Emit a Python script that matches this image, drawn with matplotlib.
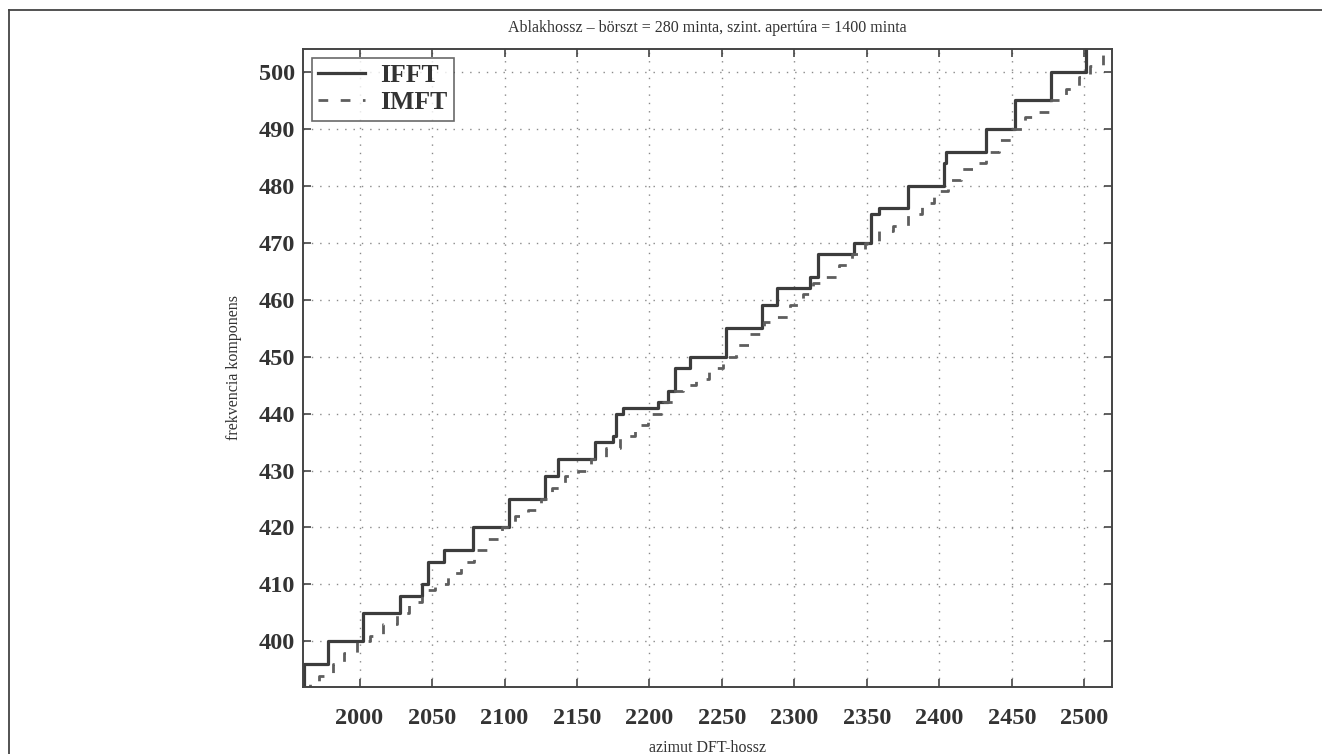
import matplotlib.pyplot as plt
from matplotlib.lines import Line2D

# azimut DFT-hossz / frekvencia komponens, IFFT (step corners)
ifft_x = [1961, 1962, 1978, 2002.5, 2028, 2043, 2047.5, 2058, 2078.5, 2103, 2128, 2137,
          2162.5, 2174.5, 2177, 2182, 2206, 2213, 2217.5, 2228, 2252.5, 2277.5, 2288,
          2311, 2316, 2341, 2352.5, 2358, 2378, 2403, 2404.5, 2432, 2452, 2477, 2501, 2520]
ifft_y = [392, 396, 400, 405, 408, 410, 414, 416, 420, 425, 429, 432,
          435, 436, 440, 441, 442, 444, 448, 450, 455, 459, 462,
          464, 468, 470, 475, 476, 480, 484, 486, 490, 495, 500, 506, 506]

# IMFT (step corners)
imft_x = [1961, 1966, 1972, 1982, 1989, 1998, 2007, 2016, 2026, 2034, 2043, 2052, 2061,
          2070, 2079, 2088, 2098, 2107, 2116, 2125, 2133, 2142, 2151, 2160, 2170, 2180,
          2190, 2199, 2209, 2216, 2223, 2232, 2241, 2251, 2260, 2269, 2279, 2288, 2297,
          2306, 2313, 2321, 2331, 2340, 2349, 2358, 2368, 2378, 2388, 2396, 2406, 2415,
          2423, 2432, 2441, 2450, 2459, 2468, 2477, 2487, 2496, 2504, 2513, 2520]
imft_y = [392, 393, 394, 396, 398, 400, 401, 403, 405, 407, 409, 410, 412,
          414, 416, 418, 420, 422, 423, 425, 427, 429, 430, 432, 434, 436,
          438, 440, 442, 444, 445, 446, 448, 450, 452, 454, 456, 457, 459,
          461, 463, 464, 466, 468, 470, 472, 473, 475, 477, 479, 481, 483,
          484, 486, 488, 490, 492, 493, 495, 497, 499, 501, 503, 503]

x_ticks = list(range(2000, 2501, 50))
y_ticks = list(range(400, 501, 10))

plt.rcParams['font.family'] = ['Liberation Serif', 'DejaVu Serif']

fig = plt.figure(figsize=(13.22, 7.54), dpi=100)
ax = fig.add_axes([0.2292, 0.0889, 0.6119, 0.8461])

ax.plot(ifft_x, ifft_y, drawstyle='steps-post', color='#3c3c3c', lw=2.3,
        label='IFFT')
ax.plot(imft_x, imft_y, drawstyle='steps-post', color='#5e5e5e', lw=2.0,
        linestyle=(0, (3.5, 4.5)), label='IMFT')

ax.set_xlim(1961, 2519)
ax.set_ylim(392, 504)
ax.set_xticks(x_ticks)
ax.set_yticks(y_ticks)
ax.grid(True, color='#8a8a8a', linestyle=(0, (1, 5)), lw=1.0)

for side in ax.spines.values():
    side.set_color('#444444')
    side.set_linewidth(1.4)
ax.tick_params(direction='in', length=6, width=1.2, color='#444444',
               top=True, right=True, labelsize=17.5, labelcolor='#333333')
ax.tick_params(axis='x', pad=15)
ax.tick_params(axis='y', pad=6)
for lab in ax.get_xticklabels() + ax.get_yticklabels():
    lab.set_fontweight('bold')

ax.set_title('Ablakhossz – börszt = 280 minta, szint. apertúra = 1400 minta',
             fontsize=11.5, color='#333333', pad=12)
ax.set_xlabel('azimut DFT-hossz', fontsize=11.5, color='#333333', labelpad=8)
ax.set_ylabel('frekvencia komponens', fontsize=11.5, color='#333333', labelpad=12)

leg = ax.legend(loc='upper left', prop={'weight': 'bold', 'size': 18.5},
                frameon=True, fancybox=False, edgecolor='#444444',
                borderaxespad=0.35, handlelength=1.8, labelspacing=0.15,
                borderpad=0.25, handletextpad=0.6)
leg.get_frame().set_linewidth(1.2)
for t in leg.get_texts():
    t.set_color('#333333')

# page frame
fig.add_artist(Line2D([0.0068, 1.0], [0.9867, 0.9867], color='#444444', lw=1.3))
fig.add_artist(Line2D([0.0068, 0.0068], [0.0, 0.9867], color='#444444', lw=1.3))

fig.savefig('out.png', dpi=100)
